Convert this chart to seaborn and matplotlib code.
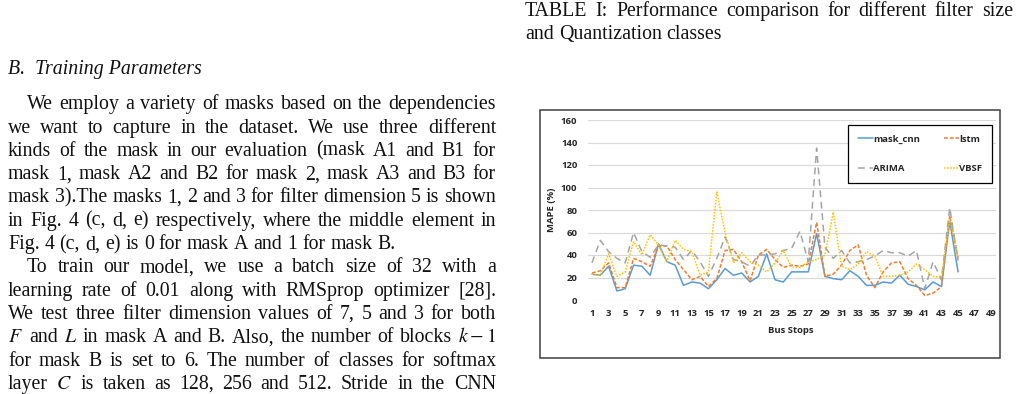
import numpy as np
import pandas as pd
import matplotlib
matplotlib.use("Agg")
import matplotlib.pyplot as plt
import seaborn as sns
from matplotlib.patches import Rectangle

# =============================
# DATA
# =============================
stops = list(range(1, 46))
mask_cnn = [23, 22, 30, 8, 10, 31, 30, 22, 50, 34,
            31, 13, 16, 15, 10, 18, 28, 22, 24, 16,
            21, 41, 18, 16, 25, 25, 25, 59, 21, 19,
            18, 26, 21, 13, 13, 16, 15, 22, 14, 12,
            9, 16, 12, 70, 25]
lstm = [24, 26, 33, 11, 11, 37, 34, 30, 48, 48,
        36, 27, 18, 21, 12, 19, 44, 45, 34, 17,
        40, 45, 36, 29, 31, 30, 32, 69, 21, 23,
        31, 44, 49, 22, 11, 25, 33, 34, 19, 13,
        4, 6, 12, 75, 37]
arima = [33, 53, 43, 37, 33, 60, 43, 38, 49, 48,
         47, 36, 44, 34, 21, 37, 56, 36, 34, 30,
         40, 40, 41, 44, 46, 61, 34, 135, 47, 37,
         44, 33, 34, 36, 39, 44, 42, 42, 39, 44,
         10, 34, 18, 82, 35]
vbsf = [23, 22, 41, 21, 25, 52, 40, 58, 49, 34,
        53, 45, 43, 22, 25, 96, 60, 33, 42, 34,
        31, 25, 33, 44, 29, 29, 34, 36, 40, 78,
        30, 27, 32, 43, 39, 21, 21, 22, 25, 32,
        27, 21, 20, 72, 38]

model_names = ["mask_cnn", "lstm", "ARIMA", "VBSF"]
x_ticks = list(range(1, 50, 2))
y_ticks = list(range(0, 161, 20))

caption = [
    "TABLE I: Performance comparison for different filter size",
    "and Quantization classes",
]
heading = "B.  Training Parameters"
body = [
    ("We employ a variety of masks based on the dependencies", True, True),
    ("we want to capture in the dataset. We use three different", False, True),
    ("kinds of the mask in our evaluation (mask A1 and B1 for", False, True),
    ("mask 1, mask A2 and B2 for mask 2, mask A3 and B3 for", False, True),
    ("mask 3).The masks 1, 2 and 3 for filter dimension 5 is shown", False, True),
    ("in Fig. 4 (c, d, e) respectively, where the middle element in", False, True),
    ("Fig. 4 (c, d, e) is 0 for mask A and 1 for mask B.", False, False),
    ("To train our model, we use a batch size of 32 with a", True, True),
    ("learning rate of 0.01 along with RMSprop optimizer [28].", False, True),
    ("We test three filter dimension values of 7, 5 and 3 for both", False, True),
    ("$F$ and $L$ in mask A and B. Also, the number of blocks $k-1$", False, True),
    ("for mask B is set to 6. The number of classes for softmax", False, True),
    ("layer $C$ is taken as 128, 256 and 512. Stride in the CNN", False, True),
]

# =============================
# STYLE
# =============================
W, H = 1021, 394
sns.set_theme(style="white")
plt.rcParams["font.family"] = ["Open Sans", "DejaVu Sans"]
plt.rcParams["mathtext.fontset"] = "stix"

colors = {"mask_cnn": "#5B9BD5", "lstm": "#ED7D31", "ARIMA": "#A5A5A5", "VBSF": "#FFC000"}
dashes = {"mask_cnn": "", "lstm": (2.5, 1.2), "ARIMA": (4.5, 3), "VBSF": (1, 1)}
label_col = "#262626"
fs = 6.8


def fpos(x, y):
    return x / W, (H - y) / H


fig = plt.figure(figsize=(W / 100, H / 100), dpi=100)
rend = fig.canvas.get_renderer()


def text_line(s, y, x0, x1, indent=0, justify=True, **kw):
    words = s.split(" ")
    arts = [fig.text(0, 0, w, va="baseline", ha="left", fontsize=14.3,
                     family="Liberation Serif", color="#111111", **kw) for w in words]
    widths = [a.get_window_extent(rend).width for a in arts]
    if justify and len(words) > 1:
        gap = (x1 - x0 - indent - sum(widths)) / (len(words) - 1)
    else:
        gap = 5.0
    x = x0 + indent
    for a, w in zip(arts, widths):
        a.set_position(fpos(x, y))
        x += w + gap


# =============================
# PAPER TEXT
# =============================
text_line(caption[0], 16, 525, 1013)
text_line(caption[1], 39.3, 525, 1013, justify=False)
fig.text(*fpos(8, 74), heading, va="baseline", ha="left", fontsize=14.3,
         family="Liberation Serif", style="italic", color="#111111")
for i, (s, ind, just) in enumerate(body):
    text_line(s, 109.3 + i * 23.3, 8, 496, indent=19 if ind else 0, justify=just)

# chart frame
fig.patches.append(Rectangle(fpos(540, 358), 460 / W, 248 / H, transform=fig.transFigure,
                             fill=False, edgecolor="#404040", linewidth=1.1))

# =============================
# CHART
# =============================
ax = fig.add_axes([587.8 / W, (H - 300) / H, 407.7 / W, 180 / H])

df = pd.DataFrame({"Stop": stops * 4,
                   "MAPE": mask_cnn + lstm + arima + vbsf,
                   "Model": np.repeat(model_names, len(stops))})

sns.lineplot(data=df, x="Stop", y="MAPE", hue="Model", style="Model",
             palette=colors, dashes=dashes, linewidth=1.1, ax=ax,
             hue_order=model_names, style_order=model_names)

ax.set_xlim(0.5, 49.5)
ax.set_ylim(0, 160)
ax.set_xticks(x_ticks)
ax.set_yticks(y_ticks)
ax.yaxis.grid(True, color="#d9d9d9", linewidth=0.8)
ax.set_axisbelow(True)
for sp in ax.spines.values():
    sp.set_visible(False)
ax.tick_params(axis="both", length=0, labelsize=fs, labelcolor=label_col)
ax.tick_params(axis="y", pad=7.5)
ax.tick_params(axis="x", pad=6.2)
for lab in ax.get_xticklabels() + ax.get_yticklabels():
    lab.set_fontweight("bold")

ax.set_xlabel("Bus Stops", fontsize=fs, fontweight="bold", color=label_col, va="center")
ax.set_ylabel("MAPE (%)", fontsize=fs, fontweight="bold", color=label_col, va="center")
ax.xaxis.set_label_coords(0.498, -0.172)
ax.yaxis.set_label_coords(-0.088, 0.5)

handles, labels = ax.get_legend_handles_labels()
ax.get_legend().remove()
order = [labels.index(n) for n in ["mask_cnn", "ARIMA", "lstm", "VBSF"]]
leg = fig.legend([handles[i] for i in order], [labels[i] for i in order],
                 ncol=2, loc="center", bbox_to_anchor=fpos(920, 154),
                 frameon=True, fancybox=False, framealpha=1, edgecolor="black",
                 prop={"size": fs, "weight": "bold"}, handlelength=1.6,
                 handletextpad=0.05, columnspacing=2.5, labelspacing=2.2,
                 borderpad=1.0, borderaxespad=0)
leg.get_frame().set_linewidth(0.9)
for t in leg.get_texts():
    t.set_color(label_col)

fig.savefig("out.png", dpi=100)
